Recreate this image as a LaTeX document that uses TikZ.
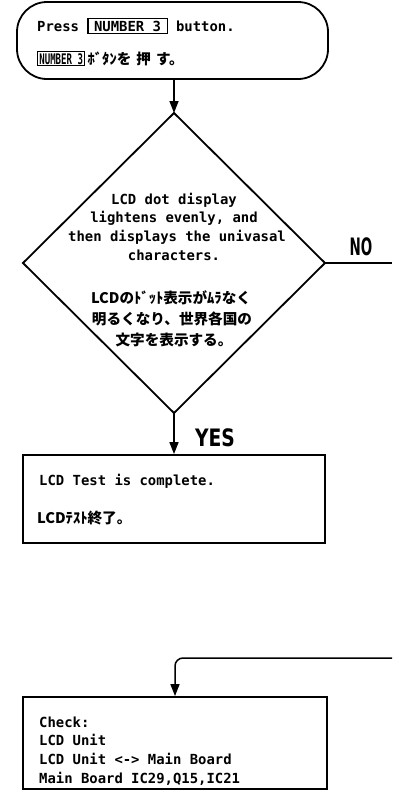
\documentclass[tikz,border=0pt]{standalone}
\usepackage{fontspec}
\usepackage{graphicx}
\setmonofont{DejaVu Sans Mono}
\newfontfamily\jpfont{Noto Sans CJK JP}
\newfontfamily\lblfont{DejaVu Sans}
\usetikzlibrary{arrows.meta}
\newcommand\keyboxwide[1]{{\setlength{\fboxsep}{1.5pt}\setlength{\fboxrule}{1.2pt}\fbox{\hspace{4pt}#1\hspace{4pt}}}}
\newcommand\keyboxnarrow[1]{{\setlength{\fboxsep}{1pt}\setlength{\fboxrule}{1.2pt}\fbox{\scalebox{0.62}[1]{\ttfamily\bfseries #1}}}}
\begin{document}
\begin{tikzpicture}[x=1pt,y=-1pt,
  en/.style={font=\fontsize{13.9}{18.7}\selectfont\ttfamily\bfseries, inner sep=0},
  jpt/.style={font=\fontsize{14.6}{21}\selectfont\jpfont\bfseries, inner sep=0},
  big/.style={font=\fontsize{24}{26}\selectfont\lblfont\bfseries, inner sep=0},
  box/.style={draw, line width=1.8pt},
  line/.style={line width=1.5pt},
  conn/.style={line width=1.5pt, -{Triangle[length=12pt,width=9pt]}}]
\useasboundingbox (0,0) rectangle (392,801);

% start terminal
\node[box, rounded corners=30pt, minimum width=311pt, minimum height=77pt, inner sep=0] (start) at (172.5,40.5) {};
\node[en, anchor=base west] (s1) at (37,31) {Press \keyboxwide{NUMBER 3} button.};
\node[jpt, anchor=base west] (s2) at (37,64) {\keyboxnarrow{NUMBER 3}\,ﾎﾞﾀﾝを\hspace{5pt}押\hspace{5pt}す。};

% decision diamond
\coordinate (dtop) at (174,113);
\coordinate (dright) at (325,263);
\coordinate (dbot) at (174,413);
\coordinate (dleft) at (23,263);
\draw[box, line join=miter] (dtop) -- (dright) -- (dbot) -- (dleft) -- cycle;
\node[en, anchor=base] (d1) at (174,204) {LCD dot display};
\node[en, anchor=base] (d2) at (174,222) {lightens evenly, and};
\node[en, anchor=base] (d3) at (177,241) {then displays the univasal};
\node[en, anchor=base] (d4) at (174,260) {characters.};
\node[jpt, anchor=base] (d5) at (171,303) {LCDのﾄﾞｯﾄ表示がﾑﾗなく};
\node[jpt, anchor=base] (d6) at (172,324) {明るくなり、世界各国の};
\node[jpt, anchor=base] (d7) at (174,345) {文字を表示する。};

\draw[conn] (dtop |- start.south) -- (dtop);

% NO branch
\coordinate (noend) at (392,263);
\draw[line] (dright) -- (noend);
\node[big] (no) at (361,247) {\scalebox{0.56}[1]{NO}};

% YES branch
\node[box, minimum width=302pt, minimum height=88pt, inner sep=0] (test) at (174,499) {};
\draw[conn] (dbot) -- (test.north);
\node[big] (yes) at (215,438) {\scalebox{0.78}[1]{YES}};
\node[en, anchor=base west] (t1) at (39,485) {LCD Test is complete.};
\node[jpt, anchor=base west] (t2) at (37,523) {LCDﾃｽﾄ終了。};

% check box
\node[box, minimum width=304pt, minimum height=92pt, inner sep=0] (check) at (175,743) {};
\coordinate (ret) at (392,658);
\draw[conn, rounded corners=8pt] (ret) -| (check.north);
\node[en, anchor=base west] (c1) at (39,727) {Check:};
\node[en, anchor=base west] (c2) at (39,745) {LCD Unit};
\node[en, anchor=base west] (c3) at (39,764) {LCD Unit <-> Main Board};
\node[en, anchor=base west] (c4) at (39,783) {Main Board IC29,Q15,IC21};
\end{tikzpicture}
\end{document}
